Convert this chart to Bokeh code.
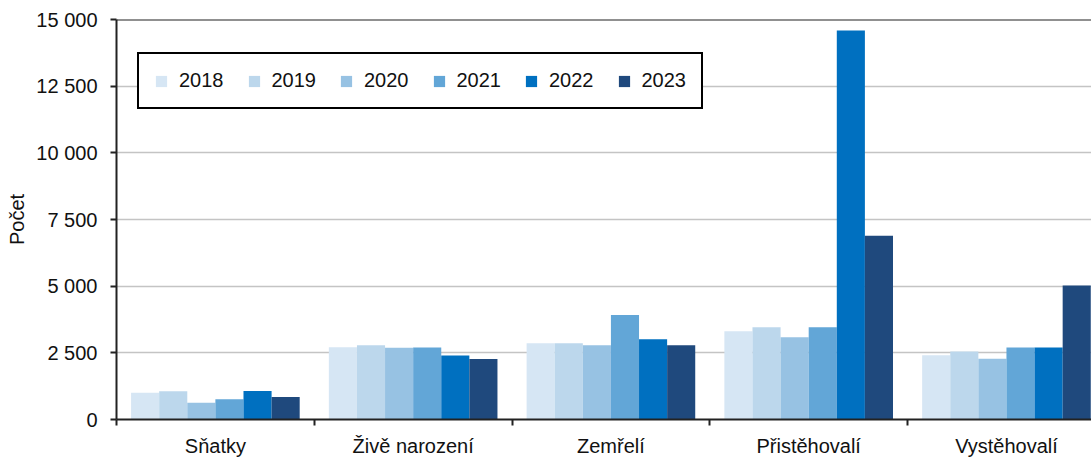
from bokeh.plotting import figure
from bokeh.models import Range1d, FixedTicker, Legend, LegendItem, Span, ColumnDataSource
from bokeh.embed import file_html
from bokeh.resources import INLINE

categories = ["Sňatky", "Živě narození", "Zemřelí", "Přistěhovalí", "Vystěhovalí"]
years = ["2018", "2019", "2020", "2021", "2022", "2023"]
v2018 = [1000, 2710, 2860, 3310, 2410]
v2019 = [1055, 2785, 2860, 3460, 2550]
v2020 = [625, 2690, 2785, 3085, 2275]
v2021 = [760, 2700, 3920, 3460, 2700]
v2022 = [1070, 2400, 3010, 14590, 2700]
v2023 = [845, 2265, 2780, 6890, 5025]
series = [v2018, v2019, v2020, v2021, v2022, v2023]
colors = ["#d6e6f4", "#bcd7ec", "#97c2e3", "#62a6d7", "#0070c0", "#1f497d"]
y_ticks = [0, 2500, 5000, 7500, 10000, 12500, 15000]

FONT = "Liberation Sans"
TXT = "#111111"
AX = "#222222"

p = figure(width=1091, height=459, output_backend="svg", toolbar_location=None,
           x_range=Range1d(0, 4.93), y_range=Range1d(0, 15000),
           min_border_left=116, min_border_right=0, min_border_top=19,
           min_border_bottom=38)
p.outline_line_color = None
p.background_fill_color = "white"
p.border_fill_color = "white"

bar_w = 0.1421
idx = list(range(len(categories)))
renderers = []
for j, (yr, vals, col) in enumerate(zip(years, series, colors)):
    xs = [i + 0.5 + (j - 2.5) * bar_w for i in idx]
    src = ColumnDataSource(dict(x=xs, top=vals))
    r = p.vbar(x="x", top="top", width=bar_w, source=src, fill_color=col, line_color=None)
    renderers.append(r)

items = [LegendItem(label=yr, renderers=[r]) for yr, r in zip(years, renderers)]
legend = Legend(items=items, orientation="horizontal", location=(21, 310),
                glyph_width=14, glyph_height=14, label_standoff=11, spacing=23,
                padding=15, margin=0,
                label_text_font=FONT, label_text_font_size="20px", label_text_color=TXT,
                border_line_color="black", border_line_width=2, border_line_alpha=1.0,
                background_fill_color="white", background_fill_alpha=1.0)
p.add_layout(legend, "center")

# y axis
p.yaxis.ticker = FixedTicker(ticks=y_ticks)
p.yaxis.major_label_overrides = {t: f"{t:,}".replace(",", " ") for t in y_ticks}
p.yaxis.major_label_text_font = FONT
p.yaxis.major_label_text_font_size = "20px"
p.yaxis.major_label_text_color = TXT
p.yaxis.major_label_standoff = 13
p.yaxis.major_tick_out = 6
p.yaxis.major_tick_in = 0
p.yaxis.major_tick_line_width = 2
p.yaxis.major_tick_line_color = AX
p.yaxis.minor_tick_line_color = None
p.yaxis.axis_line_width = 2
p.yaxis.axis_line_color = AX
p.yaxis.axis_label = "Počet"
p.yaxis.axis_label_text_font = FONT
p.yaxis.axis_label_text_font_size = "20px"
p.yaxis.axis_label_text_font_style = "normal"
p.yaxis.axis_label_text_color = TXT
p.yaxis.axis_label_standoff = 5

# x axis: labels at category centres, tick marks at category boundaries
centers = [i + 0.5 for i in idx]
p.xaxis.ticker = FixedTicker(ticks=centers, minor_ticks=[i for i in range(len(categories) + 1)])
p.xaxis.major_label_overrides = {c: name for c, name in zip(centers, categories)}
p.xaxis.major_label_text_font = FONT
p.xaxis.major_label_text_font_size = "20px"
p.xaxis.major_label_text_color = TXT
p.xaxis.major_label_standoff = 9
p.xaxis.major_tick_out = 6
p.xaxis.major_tick_in = 0
p.xaxis.major_tick_line_color = None
p.xaxis.minor_tick_out = 6
p.xaxis.minor_tick_in = 0
p.xaxis.minor_tick_line_width = 2
p.xaxis.minor_tick_line_color = AX
p.xaxis.axis_line_width = 2
p.xaxis.axis_line_color = AX

p.xgrid.grid_line_color = None
p.ygrid.ticker = FixedTicker(ticks=y_ticks)
p.ygrid.grid_line_color = "#c4c4c4"
p.ygrid.grid_line_width = 1.5

p.add_layout(Span(location=15000, dimension="width", line_color=AX, line_width=2))

open("out.html", "w").write(file_html(p, INLINE))
